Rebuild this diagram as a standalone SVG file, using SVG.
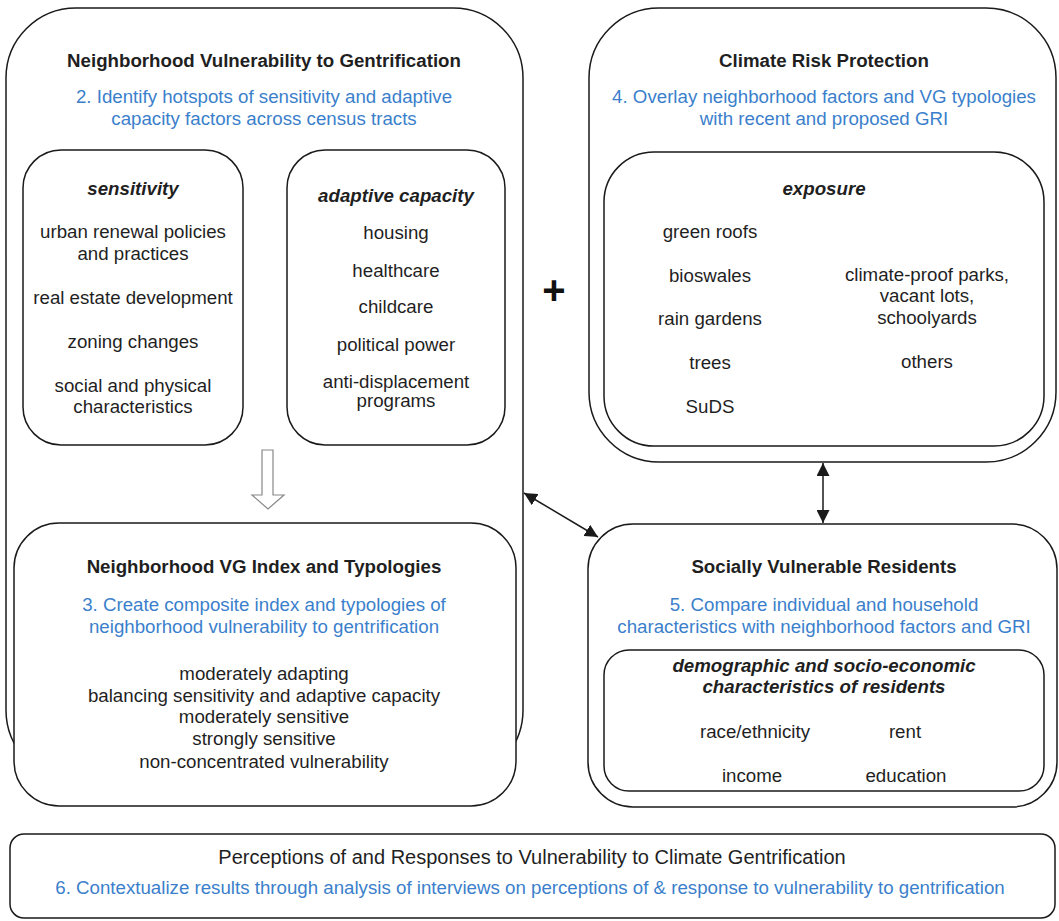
<svg xmlns="http://www.w3.org/2000/svg" width="1059" height="921" viewBox="0 0 1059 921">
<defs>
<style>
.box{fill:#fff;stroke:#1a1a1a;stroke-width:1.5}
.t{font-family:"Liberation Sans",Arial,sans-serif;font-size:18.7px;fill:#1f1f1f;text-anchor:middle}
.b{font-weight:bold}
.i{font-style:italic;font-weight:bold}
.blue{fill:#3b7fcc}
.conn{stroke:#1a1a1a;stroke-width:1.5;fill:none}
</style>
<marker id="ah" viewBox="0 0 10 10" refX="10" refY="5" markerWidth="13" markerHeight="13" markerUnits="userSpaceOnUse" orient="auto-start-reverse">
<path d="M0,0 L10,5 L0,10 z" fill="#1a1a1a"/>
</marker>
</defs>
<rect width="1059" height="921" fill="#fff"/>

<g id="node-nvg">
<rect class="box" x="6" y="8" width="517" height="772" rx="70" ry="70"/>
<text class="t b" x="264" y="67">Neighborhood Vulnerability to Gentrification</text>
<text class="t blue" x="264" y="103">2. Identify hotspots of sensitivity and adaptive</text>
<text class="t blue" x="264" y="125">capacity factors across census tracts</text>
</g>

<g id="node-sensitivity">
<rect class="box" x="23" y="150" width="220" height="295" rx="38" ry="38"/>
<text class="t i" x="133" y="195">sensitivity</text>
<text class="t" x="133" y="238">urban renewal policies</text>
<text class="t" x="133" y="260">and practices</text>
<text class="t" x="133" y="304">real estate development</text>
<text class="t" x="133" y="348">zoning changes</text>
<text class="t" x="133" y="392">social and physical</text>
<text class="t" x="133" y="413">characteristics</text>
</g>

<g id="node-adaptive">
<rect class="box" x="287" y="150" width="218" height="295" rx="38" ry="38"/>
<text class="t i" x="396" y="202">adaptive capacity</text>
<text class="t" x="396" y="239">housing</text>
<text class="t" x="396" y="277">healthcare</text>
<text class="t" x="396" y="313">childcare</text>
<text class="t" x="396" y="351">political power</text>
<text class="t" x="396" y="388">anti-displacement</text>
<text class="t" x="396" y="407">programs</text>
</g>

<g id="node-vgindex">
<rect class="box" x="14" y="523" width="502" height="283" rx="45" ry="45"/>
<text class="t b" x="264" y="573">Neighborhood VG Index and Typologies</text>
<text class="t blue" x="264" y="611">3. Create composite index and typologies of</text>
<text class="t blue" x="264" y="633">neighborhood vulnerability to gentrification</text>
<text class="t" x="264" y="680">moderately adapting</text>
<text class="t" x="264" y="702">balancing sensitivity and adaptive capacity</text>
<text class="t" x="264" y="723">moderately sensitive</text>
<text class="t" x="264" y="745">strongly sensitive</text>
<text class="t" x="264" y="768">non-concentrated vulnerability</text>
</g>

<g id="node-climate">
<rect class="box" x="589" y="8" width="467" height="454" rx="70" ry="70"/>
<text class="t b" x="824" y="67">Climate Risk Protection</text>
<text class="t blue" x="824" y="103">4. Overlay neighborhood factors and VG typologies</text>
<text class="t blue" x="824" y="125">with recent and proposed GRI</text>
</g>

<g id="node-exposure">
<rect class="box" x="604" y="152" width="440" height="294" rx="50" ry="50"/>
<text class="t i" x="824" y="195">exposure</text>
<text class="t" x="710" y="238">green roofs</text>
<text class="t" x="710" y="282">bioswales</text>
<text class="t" x="710" y="325">rain gardens</text>
<text class="t" x="710" y="369">trees</text>
<text class="t" x="710" y="413">SuDS</text>
<text class="t" x="927" y="281">climate-proof parks,</text>
<text class="t" x="927" y="302">vacant lots,</text>
<text class="t" x="927" y="324">schoolyards</text>
<text class="t" x="927" y="368">others</text>
</g>

<g id="node-residents">
<rect class="box" x="588" y="524" width="469" height="283" rx="45" ry="45"/>
<text class="t b" x="824" y="573">Socially Vulnerable Residents</text>
<text class="t blue" x="824" y="611">5. Compare individual and household</text>
<text class="t blue" x="824" y="633">characteristics with neighborhood factors and GRI</text>
</g>

<g id="node-demographic">
<rect class="box" x="604" y="650" width="440" height="141" rx="25" ry="25"/>
<text class="t i" x="824" y="672">demographic and socio-economic</text>
<text class="t i" x="824" y="693">characteristics of residents</text>
<text class="t" x="755" y="738">race/ethnicity</text>
<text class="t" x="905" y="738">rent</text>
<text class="t" x="752" y="782">income</text>
<text class="t" x="906" y="782">education</text>
</g>

<g id="node-perceptions">
<rect class="box" x="10" y="834" width="1045" height="84" rx="14" ry="14"/>
<text class="t" x="532" y="864" style="font-size:20px">Perceptions of and Responses to Vulnerability to Climate Gentrification</text>
<text class="t blue" x="530" y="894">6. Contextualize results through analysis of interviews on perceptions of &amp; response to vulnerability to gentrification</text>
</g>

<g id="plus">
<text x="554" y="304" style="font-family:'Liberation Sans',Arial,sans-serif;font-size:40px;font-weight:bold;fill:#111;text-anchor:middle">+</text>
</g>

<g id="connectors">
<path d="M262,450 L273,450 L273,495 L284,495 L268,509 L252,495 L262,495 Z" fill="#fff" stroke="#888" stroke-width="1.2"/>
<line class="conn" x1="524" y1="493" x2="598" y2="537" marker-start="url(#ah)" marker-end="url(#ah)"/>
<line class="conn" x1="823" y1="463" x2="823" y2="523" marker-start="url(#ah)" marker-end="url(#ah)"/>
</g>
</svg>
